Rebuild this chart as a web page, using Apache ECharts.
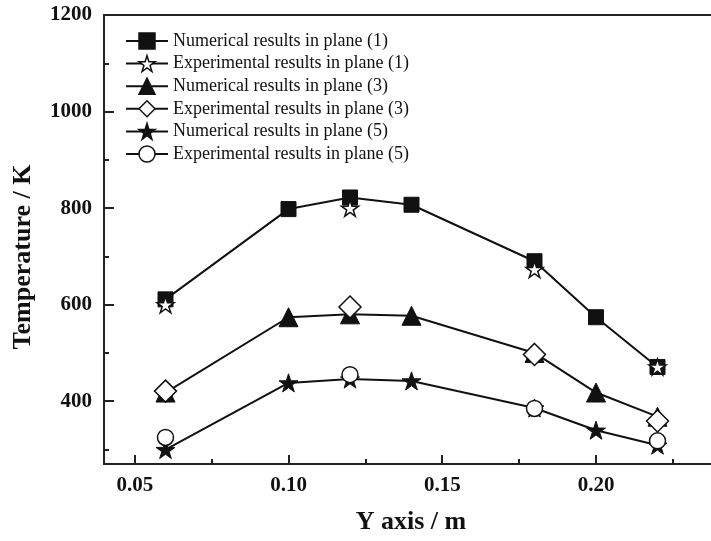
<!DOCTYPE html>
<html><head><meta charset="utf-8">
<script src="https://cdn.jsdelivr.net/npm/echarts@6/dist/echarts.min.js"></script>
<style>html,body{margin:0;padding:0;background:#fff}#c{width:711px;height:541px}</style>
</head><body><div id="c"></div>
<script>
// ---- data ----
const xNum = [0.06, 0.10, 0.12, 0.14, 0.18, 0.20, 0.22];
const xExp = [0.06, 0.12, 0.18, 0.22];
const numPlane1 = [611, 798, 822, 807, 690, 574, 471];
const expPlane1 = [600, 800, 673, 471];
const numPlane3 = [418, 574, 580, 577, 500, 418, 368];
const expPlane3 = [421, 595, 497, 359];
const numPlane5 = [300, 438, 446, 442, 386, 340, 309];
const expPlane5 = [325, 455, 385, 318];
const seriesNames = [
  'Numerical results in plane (1)',
  'Experimental results in plane (1)',
  'Numerical results in plane (3)',
  'Experimental results in plane (3)',
  'Numerical results in plane (5)',
  'Experimental results in plane (5)'
];
const xMajorTicks = [0.05, 0.10, 0.15, 0.20];
const xMinorTicks = [0.075, 0.125, 0.175, 0.225];
const yMajorTicks = [400, 600, 800, 1000, 1200];
const yMinorTicks = [300, 500, 700, 900, 1100];
const xTitle = 'Y axis / m';
const yTitle = 'Temperature / K';

// ---- chart ----
const STAR = 'path://M50 0 L61.23 34.55 L97.55 34.55 L68.17 55.9 L79.39 90.45 L50 69.1 L20.61 90.45 L31.83 55.9 L2.45 34.55 L38.77 34.55 Z';
const FONT = "'Liberation Serif', 'Times New Roman', serif";
const pairs = (xs, ys) => xs.map((x, i) => [x, ys[i]]);

function numSeries(name, ys, symbol, size) {
  return {
    name, type: 'line', data: pairs(xNum, ys), symbol, symbolSize: size, symbolKeepAspect: true,
    lineStyle: { color: '#111', width: 2 },
    itemStyle: { color: '#111', borderColor: '#111', borderWidth: 1 },
    emphasis: { disabled: true }, animation: false
  };
}
function expSeries(name, ys, symbol, size) {
  return {
    name, type: 'line', data: pairs(xExp, ys), symbol, symbolSize: size, symbolKeepAspect: true,
    lineStyle: { color: '#111', width: 2, opacity: 0 },
    itemStyle: { color: '#fff', borderColor: '#111', borderWidth: 1.5 },
    emphasis: { disabled: true }, animation: false
  };
}

const chart = echarts.init(document.getElementById('c'), null, { renderer: 'canvas' });
chart.setOption({
  animation: false,
  backgroundColor: '#fff',
  grid: { left: 104, top: 15, right: -8, bottom: 77, outerBoundsMode: 'none', containLabel: false, show: true, borderColor: '#222', borderWidth: 2, backgroundColor: 'transparent' },
  legend: {
    orient: 'vertical', left: 120, top: 27,
    itemWidth: 42, itemHeight: 20, itemGap: 4.6,
    data: seriesNames,
    textStyle: { fontFamily: FONT, fontSize: 18, color: '#111' },
    lineStyle: { color: '#111', width: 2, opacity: 1 },
    itemStyle: { borderWidth: 1.5, borderColor: '#111' },
    selectedMode: false
  },
  xAxis: [{
    type: 'value', min: 0.04, max: 0.24, position: 'bottom',
    axisLine: { lineStyle: { color: '#222', width: 2 } },
    axisTick: { inside: true, length: 9, customValues: xMajorTicks, lineStyle: { color: '#222', width: 2 } },
    axisLabel: { customValues: xMajorTicks, formatter: v => v.toFixed(2), fontFamily: FONT, fontWeight: 'bold', fontSize: 21, color: '#111', margin: 11 },
    splitLine: { show: false }
  }, {
    type: 'value', min: 0.04, max: 0.24, position: 'bottom',
    axisLine: { show: false },
    axisTick: { inside: true, length: 5, customValues: xMinorTicks, lineStyle: { color: '#222', width: 2 } },
    axisLabel: { show: false },
    splitLine: { show: false }
  }],
  yAxis: [{
    type: 'value', min: 270, max: 1200, position: 'left',
    axisLine: { show: true, lineStyle: { color: '#222', width: 2 } },
    axisTick: { show: true, inside: true, length: 10, customValues: yMajorTicks, lineStyle: { color: '#222', width: 2 } },
    axisLabel: { customValues: yMajorTicks, formatter: v => String(v), fontFamily: FONT, fontWeight: 'bold', fontSize: 21, color: '#111', margin: 12 },
    splitLine: { show: false }
  }, {
    type: 'value', min: 270, max: 1200, position: 'left',
    axisLine: { show: false },
    axisTick: { show: true, inside: true, length: 5, customValues: yMinorTicks, lineStyle: { color: '#222', width: 2 } },
    axisLabel: { show: false },
    splitLine: { show: false }
  }],
  graphic: [
    { type: 'text', x: 411, y: 522, style: { text: xTitle, font: "bold 26px 'Liberation Serif'", fill: '#111', align: 'center', verticalAlign: 'middle', textAlign: 'center', textVerticalAlign: 'middle' } },
    { type: 'text', x: 23, y: 257, rotation: Math.PI / 2, style: { text: yTitle, font: "bold 26px 'Liberation Serif'", fill: '#111', align: 'center', verticalAlign: 'middle', textAlign: 'center', textVerticalAlign: 'middle' } }
  ],
  series: [
    numSeries(seriesNames[0], numPlane1, 'rect', 15),
    expSeries(seriesNames[1], expPlane1, STAR, 17),
    numSeries(seriesNames[2], numPlane3, 'triangle', 19),
    expSeries(seriesNames[3], expPlane3, 'diamond', 22),
    numSeries(seriesNames[4], numPlane5, STAR, 19),
    expSeries(seriesNames[5], expPlane5, 'circle', 16)
  ]
});
</script></body></html>
